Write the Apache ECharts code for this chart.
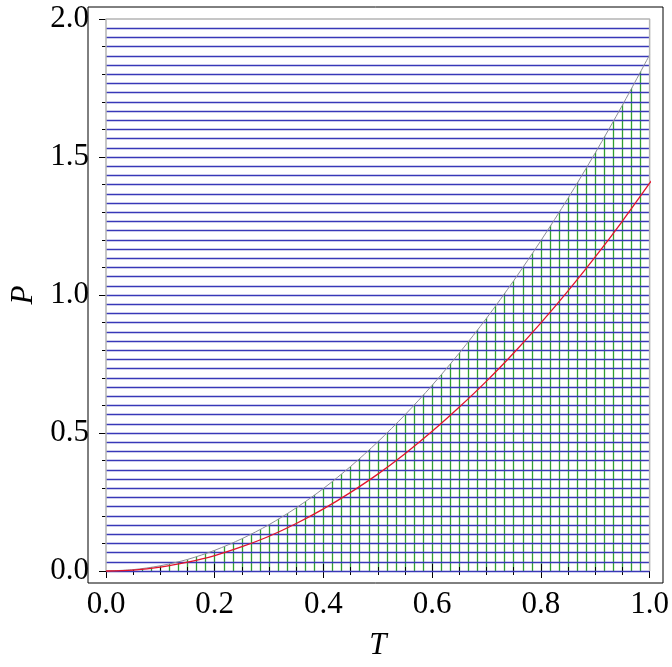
<!DOCTYPE html>
<html>
<head>
<meta charset="utf-8">
<script src="https://cdn.jsdelivr.net/npm/echarts@6/dist/echarts.min.js"></script>
<style>
  html, body { margin: 0; padding: 0; background: #fff; }
  #chart { width: 672px; height: 667px; }
</style>
</head>
<body>
<div id="chart"></div>
<script>
// T values read along the x axis
const tValues = [0, 0.05, 0.1, 0.15, 0.2, 0.25, 0.3, 0.35, 0.4, 0.45, 0.5,
  0.55, 0.6, 0.65, 0.7, 0.75, 0.8, 0.85, 0.9, 0.95, 1.0];
// upper (gray) boundary of the green region
const boundaryP = [0, 0.005, 0.019, 0.042, 0.075, 0.117, 0.168, 0.229, 0.299, 0.379, 0.468,
  0.566, 0.673, 0.79, 0.916, 1.052, 1.197, 1.351, 1.515, 1.688, 1.87];
// red curve, runs on to the frame edge
const redT = [0, 0.05, 0.1, 0.15, 0.2, 0.25, 0.3, 0.35, 0.4, 0.45, 0.5,
  0.55, 0.6, 0.65, 0.7, 0.75, 0.8, 0.85, 0.9, 0.95, 1.0, 1.02];
const redP = [0, 0.0035, 0.014, 0.032, 0.056, 0.088, 0.126, 0.172, 0.225, 0.285, 0.351,
  0.425, 0.506, 0.594, 0.688, 0.79, 0.899, 1.015, 1.138, 1.268, 1.405, 1.462];

// plot region and mesh spacing
const regionT = [0, 1];
const regionP = [0, 2];
const meshStepT = 1 / 60;
const meshStepP = 1 / 30;

// tick settings
const xMajor = 0.2;
const yMajor = 0.5;

const font = "'Liberation Serif', 'Times New Roman', Times, serif";

const chart = echarts.init(document.getElementById("chart"));

const zip = (xs, ys) => xs.map((x, i) => [x, ys[i]]);

const tickAxisCommon = {
  type: "value",
  gridIndex: 1,
  axisLine: { show: false },
  splitLine: { show: false },
  axisTick: { show: true, inside: true, length: 7, lineStyle: { color: "#000", width: 1 } },
  minorTick: { show: true, length: 4, lineStyle: { color: "#000", width: 1 } }
};

const option = {
  animation: false,
  backgroundColor: "#fff",
  grid: [
    // frame
    { left: 88, top: 7, width: 575, height: 576, show: true, borderColor: "#000", borderWidth: 1, backgroundColor: "transparent" },
    // data region
    { left: 99, top: 19, width: 553, height: 552 }
  ],
  xAxis: [
    { type: "value", gridIndex: 0, show: false, min: 0, max: 1 },
    {
      ...tickAxisCommon,
      position: "bottom",
      offset: 12,
      min: regionT[0],
      max: regionT[1],
      interval: xMajor,
      minorTick: { ...tickAxisCommon.minorTick, splitNumber: 4 },
      axisLabel: {
        margin: 6,
        color: "#000",
        fontFamily: font,
        fontSize: 31,
        formatter: v => v.toFixed(1)
      },
      name: "T",
      nameLocation: "middle",
      nameGap: 47,
      nameTextStyle: { color: "#000", fontFamily: font, fontSize: 31, fontStyle: "italic" }
    },
    {
      ...tickAxisCommon,
      position: "top",
      offset: 12,
      min: regionT[0],
      max: regionT[1],
      interval: xMajor,
      minorTick: { ...tickAxisCommon.minorTick, splitNumber: 4 },
      axisLabel: { show: false }
    },
    // green mesh lines
    {
      type: "value",
      gridIndex: 1,
      min: regionT[0],
      max: regionT[1],
      interval: meshStepT,
      axisLine: { show: false },
      axisTick: { show: false },
      axisLabel: { show: false },
      splitLine: { show: true, showMinLine: false, showMaxLine: false, lineStyle: { color: "#2f9f2f", width: 1.3 } }
    }
  ],
  yAxis: [
    { type: "value", gridIndex: 0, show: false, min: 0, max: 1 },
    {
      ...tickAxisCommon,
      position: "left",
      offset: 11,
      min: regionP[0],
      max: regionP[1],
      interval: yMajor,
      minorTick: { ...tickAxisCommon.minorTick, splitNumber: 5 },
      axisLabel: {
        margin: 6,
        color: "#000",
        fontFamily: font,
        fontSize: 31,
        formatter: v => v.toFixed(1)
      },
      name: "P",
      nameLocation: "middle",
      nameGap: 56,
      nameTextStyle: { color: "#000", fontFamily: font, fontSize: 31, fontStyle: "italic" }
    },
    {
      ...tickAxisCommon,
      position: "right",
      offset: 11,
      min: regionP[0],
      max: regionP[1],
      interval: yMajor,
      minorTick: { ...tickAxisCommon.minorTick, splitNumber: 5 },
      axisLabel: { show: false }
    },
    // blue mesh lines, on their own layer above the white mask
    {
      type: "value",
      gridIndex: 1,
      zlevel: 1,
      min: regionP[0],
      max: regionP[1],
      interval: meshStepP,
      axisLine: { show: false },
      axisTick: { show: false },
      axisLabel: { show: false },
      splitLine: { show: true, showMinLine: true, showMaxLine: false, lineStyle: { color: "#3838b8", width: 1.3 } }
    }
  ],
  series: [
    {
      // white fill above the boundary hides the green lines there
      name: "mask",
      type: "line",
      xAxisIndex: 3,
      yAxisIndex: 3,
      zlevel: 0,
      z: 3,
      smooth: 0.3,
      symbol: "none",
      lineStyle: { width: 0, opacity: 0 },
      areaStyle: { color: "#fff", opacity: 1, origin: "end" },
      data: zip(tValues, boundaryP)
    },
    {
      name: "boundary",
      type: "line",
      xAxisIndex: 3,
      yAxisIndex: 3,
      zlevel: 2,
      smooth: 0.3,
      symbol: "none",
      clip: false,
      lineStyle: { color: "#8c8c98", width: 1 },
      data: zip(tValues, boundaryP)
    },
    {
      name: "region",
      type: "line",
      xAxisIndex: 3,
      yAxisIndex: 3,
      zlevel: 2,
      symbol: "none",
      clip: false,
      lineStyle: { color: "#b4b4b4", width: 1.5 },
      data: [
        [regionT[0], regionP[0]],
        [regionT[0], regionP[1]],
        [regionT[1], regionP[1]],
        [regionT[1], regionP[0]]
      ]
    },
    {
      name: "red",
      type: "line",
      xAxisIndex: 3,
      yAxisIndex: 3,
      zlevel: 2,
      smooth: 0.3,
      symbol: "none",
      clip: false,
      lineStyle: { color: "#e3132c", width: 1.3 },
      data: zip(redT, redP)
    }
  ]
};

option && chart.setOption(option);
</script>
</body>
</html>
